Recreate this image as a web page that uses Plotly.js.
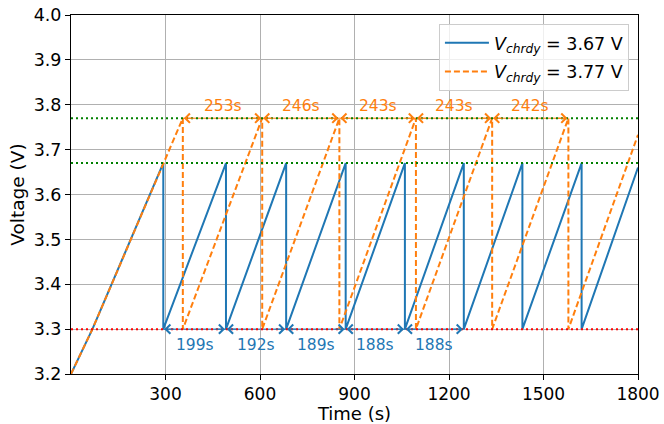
<!DOCTYPE html>
<html>
<head>
<meta charset="utf-8">
<script src="https://cdn.plot.ly/plotly-3.0.1.min.js"></script>
<style>html,body{margin:0;padding:0;background:#fff;}#chart{width:664px;height:424px;}</style>
</head>
<body>
<div id="chart"></div>
<script>
// Blue series (V_chrdy = 3.67 V): start, knee at 3.3 V, then sawtooth cycles
const blueT = [0, 68, 293,
  293, 492,
  492, 683,
  683, 872,
  872, 1060,
  1060, 1247,
  1247, 1433,
  1433, 1621,
  1621, 1800];
const blueV = [3.2, 3.3, 3.67,
  3.3, 3.67,
  3.3, 3.67,
  3.3, 3.67,
  3.3, 3.67,
  3.3, 3.67,
  3.3, 3.67,
  3.3, 3.67,
  3.3, 3.66];
// Orange series (V_chrdy = 3.77 V)
const orangeT = [0, 68, 355,
  355, 607,
  607, 852,
  852, 1095,
  1095, 1337,
  1337, 1579,
  1579, 1800];
const orangeV = [3.2, 3.3, 3.77,
  3.3, 3.77,
  3.3, 3.77,
  3.3, 3.77,
  3.3, 3.77,
  3.3, 3.77,
  3.3, 3.733];
// Drop instants and measured intervals
const blueDrops = [293, 492, 683, 872, 1060, 1247];
const blueLabels = ['199s', '192s', '189s', '188s', '188s'];
const orangeDrops = [355, 607, 852, 1095, 1337, 1579];
const orangeLabels = ['253s', '246s', '243s', '243s', '242s'];
const vLow = 3.3, vBlue = 3.67, vOrange = 3.77;
const xTicks = [300, 600, 900, 1200, 1500, 1800];

const BLUE = '#1f77b4', ORANGE = '#ff7f0e';
const FONT = 'DejaVu Sans, sans-serif';

const traces = [
  {x: blueT, y: blueV, mode: 'lines', line: {color: BLUE, width: 2}, legendgroup: 'a',
   name: '<i>V</i><sub><i>chrdy</i></sub> = 3.67 V'},
  {x: orangeT, y: orangeV, mode: 'lines', line: {color: ORANGE, width: 2, dash: '6px,3px'}, legendgroup: 'b',
   name: '<i>V</i><sub><i>chrdy</i></sub> = 3.77 V'},
  {x: [0, 1800], y: [vBlue, vBlue], mode: 'lines', line: {color: 'green', width: 2, dash: '2px,3px'}, showlegend: false, hoverinfo: 'skip'},
  {x: [0, 1800], y: [vOrange, vOrange], mode: 'lines', line: {color: 'green', width: 2, dash: '2px,3px'}, showlegend: false, hoverinfo: 'skip'},
  {x: [0, 1800], y: [vLow, vLow], mode: 'lines', line: {color: 'red', width: 2, dash: '2px,3px'}, showlegend: false, hoverinfo: 'skip'}
];

const shapes = [];
const annotations = [];
function addArrows(drops, labels, level, color, labelY) {
  for (let i = 0; i < labels.length; i++) {
    const a = drops[i], b = drops[i + 1];
    shapes.push({type: 'line', xref: 'x', yref: 'y', x0: a, x1: b, y0: level, y1: level,
      line: {color: color, width: 1}, layer: 'between'});
    annotations.push({x: a, y: level, xref: 'x', yref: 'y', text: '', showarrow: true,
      ax: 12, ay: 0, arrowhead: 4, arrowsize: 1.8, arrowwidth: 1, arrowcolor: color, standoff: 1});
    annotations.push({x: b, y: level, xref: 'x', yref: 'y', text: '', showarrow: true,
      ax: -12, ay: 0, arrowhead: 4, arrowsize: 1.8, arrowwidth: 1, arrowcolor: color, standoff: 1});
    annotations.push({x: (a + b) / 2, y: labelY, xref: 'x', yref: 'y', text: labels[i], showarrow: false,
      font: {family: FONT, size: 15.5, color: color}});
  }
}
addArrows(orangeDrops, orangeLabels, vOrange, ORANGE, 3.798);
addArrows(blueDrops, blueLabels, vLow, BLUE, 3.265);

const layout = {
  width: 664, height: 424,
  margin: {l: 71, r: 26, t: 15, b: 50},
  paper_bgcolor: '#fff', plot_bgcolor: '#fff',
  font: {family: FONT, size: 17, color: '#000'},
  xaxis: {range: [0, 1800], tickvals: xTicks, ticks: 'outside', ticklen: 5, tickcolor: '#000',
    tickfont: {size: 17},
    showline: true, linecolor: '#000', linewidth: 1, mirror: true,
    showgrid: true, gridcolor: '#b0b0b0', gridwidth: 1, zeroline: false,
    title: {text: 'Time (s)', font: {size: 18}}},
  yaxis: {range: [3.2, 4.0], dtick: 0.1, tick0: 3.2, tickformat: '.1f', ticks: 'outside', ticklen: 5, tickcolor: '#000',
    tickfont: {size: 17.5},
    showline: true, linecolor: '#000', linewidth: 1, mirror: true,
    showgrid: true, gridcolor: '#b0b0b0', gridwidth: 1, zeroline: false,
    title: {text: 'Voltage (V)', font: {size: 18.5}}},
  legend: {x: 0.984, y: 0.975, xanchor: 'right', yanchor: 'top',
    bgcolor: 'rgba(255,255,255,0.8)', bordercolor: '#cccccc', borderwidth: 1,
    font: {size: 17.5}, itemwidth: 44, tracegroupgap: 3, traceorder: 'grouped'},
  shapes: shapes,
  annotations: annotations,
  showlegend: true
};

Plotly.newPlot('chart', traces, layout, {displayModeBar: false, staticPlot: true});
</script>
</body>
</html>
